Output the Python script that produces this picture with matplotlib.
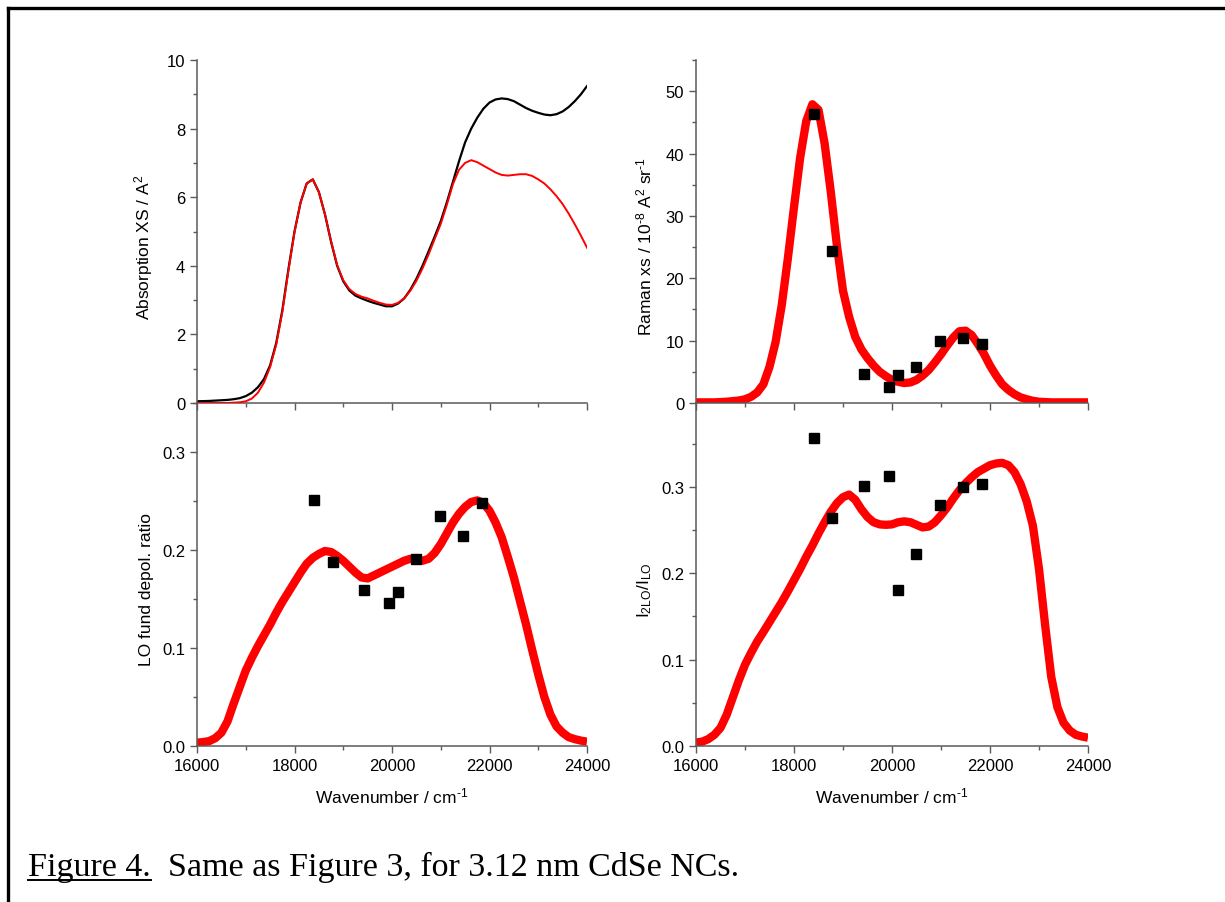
import numpy as np
import matplotlib
matplotlib.use("Agg")
import matplotlib.pyplot as plt
from matplotlib.lines import Line2D
from matplotlib.ticker import MultipleLocator, FormatStrFormatter

plt.rcParams['font.family'] = ['Liberation Sans', 'DejaVu Sans']
plt.rcParams['mathtext.fontset'] = 'custom'
plt.rcParams['mathtext.rm'] = 'Liberation Sans'
plt.rcParams['mathtext.it'] = 'Liberation Sans:italic'
plt.rcParams['mathtext.bf'] = 'Liberation Sans:bold'

# ---------------- data ----------------
wn = [16000, 16125, 16250, 16375, 16500, 16625, 16750, 16875,
      17000, 17125, 17250, 17375, 17500, 17625, 17750, 17875,
      18000, 18125, 18250, 18375, 18500, 18625, 18750, 18875,
      19000, 19125, 19250, 19375, 19500, 19625, 19750, 19875,
      20000, 20125, 20250, 20375, 20500, 20625, 20750, 20875,
      21000, 21125, 21250, 21375, 21500, 21625, 21750, 21875,
      22000, 22125, 22250, 22375, 22500, 22625, 22750, 22875,
      23000, 23125, 23250, 23375, 23500, 23625, 23750, 23875,
      24000]

abs_exp = [0.05, 0.055, 0.06, 0.07, 0.08, 0.09, 0.11, 0.14,
           0.20, 0.30, 0.46, 0.70, 1.10, 1.75, 2.70, 3.90,
           5.00, 5.85, 6.40, 6.52, 6.15, 5.50, 4.70, 4.00,
           3.55, 3.28, 3.13, 3.05, 2.98, 2.92, 2.87, 2.82,
           2.82, 2.90, 3.05, 3.30, 3.62, 4.00, 4.42, 4.85,
           5.30, 5.85, 6.45, 7.05, 7.60, 8.00, 8.32, 8.58,
           8.76, 8.85, 8.88, 8.86, 8.80, 8.70, 8.60, 8.52,
           8.46, 8.41, 8.39, 8.42, 8.50, 8.63, 8.80, 9.00,
           9.24]

abs_fit = [0.0, 0.0, 0.0, 0.0, 0.0, 0.0, 0.01, 0.02,
           0.05, 0.13, 0.30, 0.60, 1.05, 1.70, 2.65, 3.85,
           4.98, 5.85, 6.40, 6.52, 6.15, 5.50, 4.72, 4.02,
           3.58, 3.32, 3.18, 3.10, 3.05, 2.98, 2.92, 2.87,
           2.86, 2.92, 3.05, 3.27, 3.56, 3.92, 4.33, 4.78,
           5.22, 5.78, 6.38, 6.80, 7.00, 7.08, 7.02, 6.92,
           6.82, 6.72, 6.65, 6.63, 6.65, 6.67, 6.67, 6.62,
           6.52, 6.40, 6.23, 6.03, 5.80, 5.52, 5.21, 4.88,
           4.53]

raman_fit = [0.1, 0.1, 0.1, 0.1, 0.15, 0.2, 0.3, 0.4,
             0.6, 1.0, 1.7, 3.0, 5.8, 9.8, 15.7, 23.2,
             31.4, 39.3, 45.2, 47.9, 47.0, 41.6, 33.9, 25.3,
             18.0, 13.8, 10.6, 8.6, 7.2, 6.0, 5.0, 4.3,
             3.7, 3.4, 3.2, 3.3, 3.7, 4.4, 5.3, 6.5,
             7.8, 9.2, 10.5, 11.5, 11.6, 10.9, 9.5, 7.9,
             6.0, 4.4, 3.0, 2.1, 1.4, 0.9, 0.6, 0.35,
             0.2, 0.15, 0.1, 0.1, 0.1, 0.1, 0.1, 0.1,
             0.1]

depol_fit = [0.0034, 0.004, 0.005, 0.008, 0.0136, 0.025, 0.043, 0.060,
             0.077, 0.090, 0.102, 0.113, 0.124, 0.136, 0.147, 0.157,
             0.167, 0.177, 0.186, 0.192, 0.196, 0.199, 0.198, 0.194,
             0.189, 0.183, 0.177, 0.172, 0.171, 0.174, 0.177, 0.180,
             0.183, 0.186, 0.189, 0.191, 0.190, 0.189, 0.191, 0.197,
             0.206, 0.217, 0.228, 0.237, 0.244, 0.249, 0.2506, 0.248,
             0.240, 0.228, 0.213, 0.193, 0.172, 0.148, 0.124, 0.098,
             0.073, 0.050, 0.032, 0.020, 0.0136, 0.009, 0.007, 0.0055,
             0.0044]

ratio_fit = [0.004, 0.005, 0.008, 0.013, 0.021, 0.036, 0.056, 0.076,
             0.094, 0.108, 0.121, 0.132, 0.1435, 0.155, 0.1665, 0.179,
             0.192, 0.205, 0.219, 0.232, 0.246, 0.259, 0.271, 0.281,
             0.288, 0.291, 0.285, 0.274, 0.265, 0.259, 0.2565, 0.256,
             0.2565, 0.259, 0.260, 0.259, 0.256, 0.253, 0.254, 0.259,
             0.267, 0.276, 0.2865, 0.296, 0.304, 0.311, 0.317, 0.321,
             0.325, 0.327, 0.3277, 0.325, 0.317, 0.303, 0.283, 0.255,
             0.205, 0.140, 0.080, 0.045, 0.027, 0.018, 0.013, 0.011,
             0.0096]

exc_wn = [18400, 18780, 19430, 19930, 20130, 20490, 20980, 21450, 21840]
raman_pts = [46.3, 24.4, 4.6, 2.6, 4.5, 5.7, 10.0, 10.35, 9.4]
depol_pts = [0.2506, 0.188, 0.1596, 0.146, 0.157, 0.191, 0.2346, 0.2138, 0.2479]
ratio_pts = [0.3565, 0.264, 0.301, 0.3127, 0.181, 0.2227, 0.279, 0.300, 0.3035]

xlabel = r'Wavenumber / cm$^{\text{-}1}$'
ylabels = [r'Absorption XS / A$^{2}$',
           r'Raman xs / 10$^{\text{-}8}$ A$^{2}$ sr$^{\text{-}1}$',
           'LO fund depol. ratio',
           r'I$_{\mathrm{2LO}}$/I$_{\mathrm{LO}}$']
caption_a = 'Figure 4.'
caption_b = '  Same as Figure 3, for 3.12 nm CdSe NCs.'

# ---------------- figure ----------------
W, H = 1225, 903
fig = plt.figure(figsize=(W / 100, H / 100), dpi=100)

def fx(px):
    return px / W

def fy(py):
    return 1 - py / H

gray = '#5a5a5a'
l1, r1 = 197, 587
l2, r2 = 696, 1088
ytop, ymid, ybot = 61, 404, 747

ax_tl = fig.add_axes([fx(l1), fy(ymid), fx(r1 - l1), (ymid - ytop) / H])
ax_tr = fig.add_axes([fx(l2), fy(ymid), fx(r2 - l2), (ymid - ytop) / H])
ax_bl = fig.add_axes([fx(l1), fy(ybot), fx(r1 - l1), (ybot - ymid) / H])
ax_br = fig.add_axes([fx(l2), fy(ybot), fx(r2 - l2), (ybot - ymid) / H])

red = '#ff0000'
ax_tl.plot(wn, abs_exp, color='black', lw=1.6, zorder=2)
ax_tl.plot(wn, abs_fit, color=red, lw=1.4, zorder=3)

thick = dict(color=red, lw=6, solid_capstyle='butt', solid_joinstyle='round', zorder=2)
sq = dict(marker='s', ls='none', color='black', ms=7.5, zorder=3)

ax_tr.plot(wn, raman_fit, **thick)
ax_tr.plot(exc_wn, raman_pts, **sq)

ax_bl.plot(wn, depol_fit, **thick)
ax_bl.plot(exc_wn, depol_pts, **sq)

ax_br.plot(wn, ratio_fit, **thick)
ax_br.plot(exc_wn, ratio_pts, **sq)

ax_tl.set_ylim(0, 10)
ax_tr.set_ylim(0, 55)
ax_bl.set_ylim(0, 0.35)
ax_br.set_ylim(0, 0.397)

ax_tl.yaxis.set_major_locator(MultipleLocator(2))
ax_tl.yaxis.set_minor_locator(MultipleLocator(1))
ax_tr.yaxis.set_major_locator(MultipleLocator(10))
ax_tr.yaxis.set_minor_locator(MultipleLocator(5))
for a in (ax_bl, ax_br):
    a.yaxis.set_major_locator(MultipleLocator(0.1))
    a.yaxis.set_minor_locator(MultipleLocator(0.05))
    a.yaxis.set_major_formatter(FormatStrFormatter('%.1f'))

for a in (ax_tl, ax_tr, ax_bl, ax_br):
    a.set_xlim(16000, 24000)
    a.xaxis.set_major_locator(MultipleLocator(2000))
    a.xaxis.set_minor_locator(MultipleLocator(1000))
    a.spines['top'].set_visible(False)
    a.spines['right'].set_visible(False)
    for s in ('left', 'bottom'):
        a.spines[s].set_color(gray)
        a.spines[s].set_linewidth(1.1)
    a.tick_params(which='both', direction='out', color=gray, width=1.0,
                  labelsize=12, labelcolor='black')
    a.tick_params(which='major', length=5)
    a.tick_params(which='minor', length=3)
    a.patch.set_alpha(0)

for a in (ax_tl, ax_tr):
    a.tick_params(axis='x', labelbottom=False)

for a, lab in zip((ax_tl, ax_tr, ax_bl, ax_br), ylabels):
    a.set_ylabel(lab, fontsize=12.5)
ax_tl.yaxis.set_label_coords(-0.107, 0.458)
ax_bl.yaxis.set_label_coords(-0.110, 0.458)
ax_tr.yaxis.set_label_coords(-0.107, 0.458)
ax_br.yaxis.set_label_coords(-0.107, 0.458)

for a in (ax_bl, ax_br):
    a.set_xlabel(xlabel, fontsize=12.5, labelpad=9)

# page frame
fig.add_artist(Line2D([fx(8), fx(8)], [fy(9), 0], color='black', lw=2.4,
                      transform=fig.transFigure, solid_capstyle='projecting'))
fig.add_artist(Line2D([fx(8), 1], [fy(9), fy(9)], color='black', lw=2.4,
                      transform=fig.transFigure, solid_capstyle='projecting'))

# caption
cap_font = ['Liberation Serif', 'DejaVu Serif']
t1 = fig.text(fx(28), fy(876), caption_a, fontsize=24.5, family=cap_font,
              ha='left', va='baseline')
fig.canvas.draw()
bb = t1.get_window_extent()
x_end = bb.x1 / W
t2 = fig.text(x_end, fy(876), caption_b, fontsize=24.5, family=cap_font,
              ha='left', va='baseline')
fig.add_artist(Line2D([fx(28), x_end], [fy(881), fy(881)], color='black', lw=1.4,
                      transform=fig.transFigure))

fig.savefig('out.png', dpi=100)
